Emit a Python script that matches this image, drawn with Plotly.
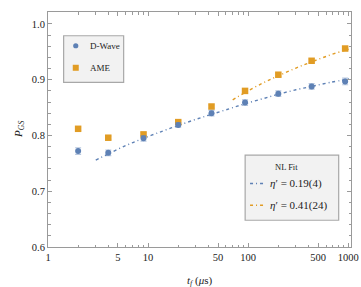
import plotly.graph_objects as go

# ---------------- data ----------------
t_points = [2, 4, 9, 20, 43, 93, 200, 430, 930]
p_dwave = [0.772, 0.769, 0.795, 0.819, 0.840, 0.859, 0.875, 0.888, 0.897]
err_dwave = [0.006, 0.005, 0.005, 0.004, 0.005, 0.005, 0.005, 0.005, 0.006]
p_ame = [0.812, 0.796, 0.802, 0.824, 0.852, 0.880, 0.909, 0.934, 0.956]
err_ame = [0.003, 0.003, 0.003, 0.003, 0.003, 0.003, 0.003, 0.003, 0.003]

t_fit_dwave = [3.0, 4, 6, 9, 14, 20, 30, 43, 65, 93, 140, 200, 300, 430, 650, 1065]
p_fit_dwave = [0.756, 0.767, 0.782, 0.795, 0.808, 0.818, 0.829, 0.838, 0.848,
               0.857, 0.866, 0.874, 0.882, 0.888, 0.895, 0.902]
t_fit_ame = [70, 93, 140, 200, 300, 430, 650, 930, 1065]
p_fit_ame = [0.864, 0.877, 0.894, 0.907, 0.921, 0.932, 0.944, 0.953, 0.956]

x_tickvals = [1, 5, 10, 50, 100, 500, 1000]
x_ticktext = ["1", "5", "10", "50", "100", "500", "1000"]
x_minor = [2, 3, 4, 6, 7, 8, 9, 20, 30, 40, 60, 70, 80, 90,
           200, 300, 400, 600, 700, 800, 900]
y_tickvals = [0.6, 0.7, 0.8, 0.9, 1.0]
y_ticktext = ["0.6", "0.7", "0.8", "0.9", "1.0"]

legend_markers = ["D-Wave", "AME"]
legend_fit_title = "NL Fit"
legend_fits = ["<i>η</i>′ = 0.19(4)", "<i>η</i>′ = 0.41(24)"]

# ---------------- style ----------------
BLUE = "#5E81B5"
ORANGE = "#E19C24"
BLUE_LIGHT = "rgba(94,129,181,0.45)"
ORANGE_LIGHT = "rgba(225,156,36,0.35)"
AX = "#9a9a9a"
FONT = "Liberation Serif"

W, H = 361, 287
ML, MR, MT, MB = 48.3, 2.7, 12, 40.3
PW, PH = W - ML - MR, H - MT - MB


def px(x):
    return (x - ML) / PW


def py(y):
    return (H - MB - y) / PH


fig = go.Figure()

fig.add_trace(go.Scatter(
    x=t_fit_dwave, y=p_fit_dwave, mode="lines", line_shape="spline",
    line=dict(color=BLUE, width=1.4, dash="3px,3px,1px,3px"), showlegend=False,
    hoverinfo="skip"))
fig.add_trace(go.Scatter(
    x=t_fit_ame, y=p_fit_ame, mode="lines", line_shape="spline",
    line=dict(color=ORANGE, width=1.4, dash="3px,3px,1px,3px"), showlegend=False,
    hoverinfo="skip"))

fig.add_trace(go.Scatter(
    x=t_points, y=p_ame, mode="markers",
    marker=dict(symbol="square", size=6.5, color=ORANGE),
    error_y=dict(type="data", array=err_ame, color=ORANGE_LIGHT, thickness=1.2, width=3),
    showlegend=False))
fig.add_trace(go.Scatter(
    x=t_points, y=p_dwave, mode="markers",
    marker=dict(symbol="circle", size=6, color=BLUE),
    error_y=dict(type="data", array=err_dwave, color=BLUE_LIGHT, thickness=1.2, width=3),
    showlegend=False))

shapes = []
annotations = []

# legend 1 box
shapes.append(dict(type="rect", xref="paper", yref="paper",
                   x0=px(64.3), x1=px(125.7), y0=py(82.3), y1=py(35.7),
                   fillcolor="#f2f2f2", line=dict(color="#a8a8a8", width=1.2), layer="above"))
leg1_y = [45.7, 67.7]
for i, name in enumerate(legend_markers):
    cx, cy = px(76.7), py(leg1_y[i])
    if i == 0:
        shapes.append(dict(type="circle", xref="paper", yref="paper",
                           xsizemode="pixel", ysizemode="pixel", xanchor=cx, yanchor=cy,
                           x0=-2.6, x1=2.6, y0=-2.6, y1=2.6,
                           fillcolor=BLUE, line=dict(width=0), layer="above"))
    else:
        shapes.append(dict(type="rect", xref="paper", yref="paper",
                           xsizemode="pixel", ysizemode="pixel", xanchor=cx, yanchor=cy,
                           x0=-3, x1=3, y0=-3, y1=3,
                           fillcolor=ORANGE, line=dict(width=0), layer="above"))
    annotations.append(dict(text=name, xref="paper", yref="paper", x=px(89), y=cy,
                            xanchor="left", yanchor="middle", showarrow=False,
                            font=dict(family=FONT, size=9, color="#222")))

# legend 2 box
shapes.append(dict(type="rect", xref="paper", yref="paper",
                   x0=px(250), x1=px(345.7), y0=py(220), y1=py(155),
                   fillcolor="#f2f2f2", line=dict(color="#a8a8a8", width=1.2), layer="above"))
annotations.append(dict(text=legend_fit_title, xref="paper", yref="paper", x=px(292),
                        y=py(166.7), xanchor="center", yanchor="middle", showarrow=False,
                        font=dict(family=FONT, size=8.5, color="#222")))
leg2_y = [183.3, 205]
for i, name in enumerate(legend_fits):
    cy = py(leg2_y[i])
    col = BLUE if i == 0 else ORANGE
    shapes.append(dict(type="line", xref="paper", yref="paper",
                       x0=px(255), x1=px(269), y0=cy, y1=cy,
                       line=dict(color=col, width=1.4, dash="3px,3px,1px,3px"), layer="above"))
    annotations.append(dict(text=name, xref="paper", yref="paper", x=px(273), y=cy,
                            xanchor="left", yanchor="middle", showarrow=False,
                            font=dict(family=FONT, size=11, color="#222")))

# axis titles
annotations.append(dict(text="<i>t<sub>f</sub></i> (<i>μ</i>s)", xref="paper", yref="paper",
                        x=0.5, y=py(280.7), xanchor="center", yanchor="middle",
                        showarrow=False, font=dict(family=FONT, size=11, color="#222")))
annotations.append(dict(text="<i>P<sub>GS</sub></i>", xref="paper", yref="paper",
                        x=px(18), y=0.5, xanchor="center", yanchor="middle", textangle=-90,
                        showarrow=False, font=dict(family=FONT, size=11, color="#222")))

fig.update_layout(
    width=W, height=H,
    margin=dict(l=ML, r=MR, t=MT, b=MB, pad=0),
    paper_bgcolor="white", plot_bgcolor="white",
    font=dict(family=FONT, size=10.5, color="#222"),
    shapes=shapes, annotations=annotations, showlegend=False,
)
fig.update_xaxes(
    type="log", range=[0, 3.027], showgrid=False, zeroline=False,
    showline=True, linecolor=AX, linewidth=1, mirror="allticks",
    ticks="inside", ticklen=4, tickcolor=AX, tickwidth=1,
    tickvals=x_tickvals, ticktext=x_ticktext, ticklabeloverflow="allow",
    minor=dict(tickvals=x_minor, ticks="inside", ticklen=2.5, tickcolor=AX, tickwidth=1),
)
fig.update_yaxes(
    range=[0.6, 1.0215], showgrid=False, zeroline=False,
    showline=True, linecolor=AX, linewidth=1, mirror="allticks",
    ticks="inside", ticklen=4, tickcolor=AX, tickwidth=1,
    tickvals=y_tickvals, ticktext=y_ticktext,
    minor=dict(dtick=0.02, tick0=0.6, ticks="inside", ticklen=2.5, tickcolor=AX, tickwidth=1),
)

fig.write_html("out.html", config={"displayModeBar": False},
               post_script="document.body.style.margin='0';document.body.style.overflow='hidden';")
